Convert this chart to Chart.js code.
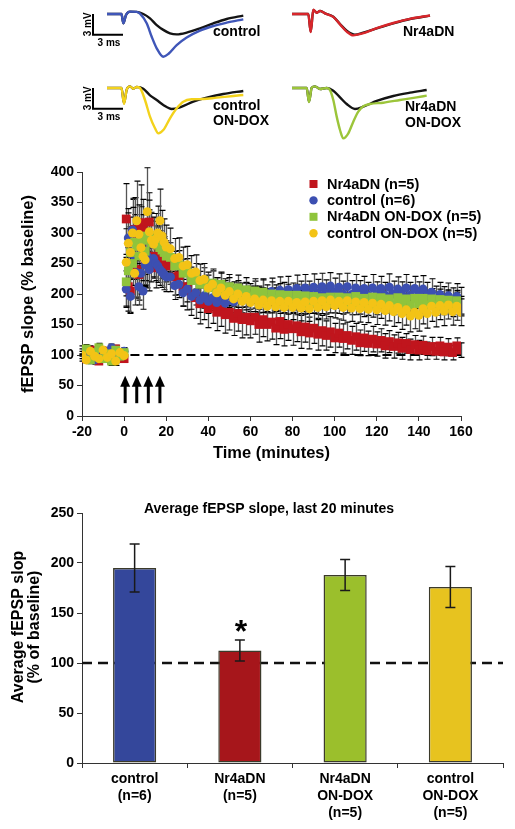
<!DOCTYPE html>
<html><head><meta charset="utf-8">
<script src="https://cdn.jsdelivr.net/npm/chart.js@4.4.0/dist/chart.umd.min.js"></script>
<style>
html,body{margin:0;padding:0;background:#fff;}
body{width:515px;height:829px;position:relative;overflow:hidden;}
canvas{position:absolute;}
</style></head><body>
<canvas id="c1" width="220" height="70" style="left:60px;top:0px"></canvas>
<canvas id="c2" width="220" height="70" style="left:270px;top:0px"></canvas>
<canvas id="c3" width="220" height="70" style="left:60px;top:74px"></canvas>
<canvas id="c4" width="220" height="70" style="left:270px;top:74px"></canvas>
<canvas id="cMid" width="515" height="330" style="left:0px;top:140px"></canvas>
<canvas id="cBar" width="515" height="349" style="left:0px;top:480px"></canvas>
<script>
// ================= DATA =================
// --- example traces (time in ms, voltage in mV)
const tr1BlackT = [0,1.45,1.63,1.9,2.3,2.97,3.63,4.3,4.97,5.63,6.3,6.97,7.97,9.3,10.63,11.97,13.63];
const tr1BlackV = [0,0,-1.35,-0.14,0.34,0.3,0,-0.63,-1.6,-2.3,-2.8,-2.95,-2.7,-2.08,-1.35,-0.72,-0.24];
const tr1BlueT  = [0,1.45,1.63,1.9,2.3,2.97,3.3,3.97,4.47,4.97,5.63,6.13,6.97,7.97,9.3,10.63,11.97,13.63];
const tr1BlueV  = [0,0,-1.35,-0.14,0.34,0.3,0.05,-1.35,-3.3,-4.97,-6.2,-5.8,-4.5,-3.4,-2.4,-1.74,-1.26,-0.77];

const tr2BlackT = [0,1.63,1.87,2.13,2.47,2.8,3.3,4.13,4.8,5.47,6.3,7.13,8.47,10.13,11.8,13.8];
const tr2BlackV = [0,0,-2.56,0.58,0.19,0.43,0.1,-0.39,-1.45,-2.42,-3.0,-2.7,-2.08,-1.35,-0.72,-0.24];
const tr2RedT   = [0,1.63,1.87,2.13,2.47,2.8,3.3,4.13,4.8,5.47,6.13,6.97,8.47,10.13,11.8,13.8];
const tr2RedV   = [0,0,-2.62,0.62,0.16,0.45,0.08,-0.42,-1.5,-2.55,-3.1,-2.85,-2.05,-1.3,-0.7,-0.22];

const tr3BlackT  = [0,1.45,1.7,1.97,2.3,2.63,2.97,3.63,4.3,4.97,5.63,6.47,7.3,8.63,9.97,11.63,13.63];
const tr3BlackV  = [0,0,-2.2,-0.24,0.24,-0.1,0.14,-0.1,-1.06,-1.74,-2.46,-3.04,-2.8,-1.98,-1.4,-0.87,-0.43];
const tr3YellowT = [0,1.45,1.7,1.97,2.3,2.63,2.97,3.3,3.8,4.3,4.8,5.13,5.63,6.3,6.97,7.63,8.47,9.63,10.97,12.63,13.63];
const tr3YellowV = [0,0,-2.3,-0.24,0.24,-0.1,0.14,0,-1.74,-4.15,-5.84,-6.57,-6.1,-4.4,-2.95,-1.98,-1.64,-1.6,-1.4,-1.16,-1.01];

const tr4BlackT = [0,1.47,1.7,1.97,2.3,2.8,3.47,4.13,4.8,5.47,6.3,7.13,8.47,10.13,11.8,13.47];
const tr4BlackV = [0,0,-1.98,0.05,0.24,-0.14,0,-0.39,-1.35,-2.32,-3.04,-2.71,-1.88,-1.16,-0.68,-0.29];
const tr4GreenT = [0,1.47,1.7,1.97,2.3,2.8,3.47,3.8,4.13,4.47,4.8,5.13,5.63,6.13,6.63,7.13,7.8,9.13,10.8,12.47,13.47];
const tr4GreenV = [0,0,-2.05,0.05,0.24,-0.14,0,-0.3,-1.74,-4.15,-6.09,-7.3,-6.57,-4.88,-3.43,-2.66,-2.32,-2.13,-1.74,-1.35,-1.11];

const traceLabels = [['control'],['Nr4aDN'],['control','ON-DOX'],['Nr4aDN','ON-DOX']];
const scaleBarMV = 3, scaleBarMS = 3;

// --- time course (minutes, % baseline)
const times = [-20,-18,-16,-14,-12,-10,-8,-6,-4,-2,0,
  1,2,3,4,5,6,7,8,9,10,11,12,13,14,15,16,17,18,19,20,
  22,24,26,28,30,32,34,36,38,40,42,44,46,48,50,52,54,56,58,60,
  62,64,66,68,70,72,74,76,78,80,82,84,86,88,90,92,94,96,98,100,
  102,104,106,108,110,112,114,116,118,120,122,124,126,128,130,132,134,136,138,140,
  142,144,146,148,150,152,154,156,158,160];

const nrVals = [104,94,108,97,90,106,100,92,110,96,94,
  323,212,205,300,306,240,232,317,305,255,248,318,290,262,243,280,270,255,262,248,
  246,228,230,212,208,200,194,184,190,176, 182,170,176,166,170,160,168,158,162,156,
  162,150,158,150,154,144,155,142,150,143, 148,138,146,136,144,134,140,132,138,128,
  136,127,132,124,130,120,128,119,126,118, 124,115,122,114,120,111,119,109,117,108,
  116,107,114,106,115,105,113,104,115,108];
const nrSem = [6,5,7,6,5,6,7,5,6,6,5,
  58,40,35,55,52,45,42,62,50,40,38,48,42,36,33,32,30,30,29,28,
  30,30,31,32,34,35,34,33,32,31, 30,30,29,30,29,28,29,30,29,28,
  28,29,28,27,28,27,28,27,26,27, 26,27,25,26,25,26,25,24,25,24,
  23,24,22,23,22,21,22,20,21,20, 19,20,18,19,17,18,16,17,15,16,
  15,14,15,13,14,13,14,12,13,12];

const ctVals = [108,95,104,92,110,98,102,112,94,100,106,
  208,292,196,305,262,235,212,234,205,248,262,240,252,258,250,246,240,236,232,228,
  228,214,216,202,208,196,202,190,197,188, 194,186,196,185,198,187,196,190,199,192,
  199,190,203,192,204,194,206,196,207,197, 209,198,210,200,211,201,212,202,213,203,
  211,200,212,199,210,201,209,198,210,199, 209,198,211,200,208,199,210,198,209,199,
  208,198,203,192,199,190,197,188,196,189];
const ctSem = [7,6,8,7,6,7,8,6,7,7,6,
  30,48,28,52,38,42,30,34,30,36,40,35,32,30,28,27,26,25,25,24,
  24,23,22,22,21,21,20,20,20,20, 21,20,22,21,20,21,22,21,20,21,
  22,21,22,23,22,21,22,23,22,21, 22,23,22,21,22,23,22,21,22,23,
  22,21,22,23,22,21,20,21,22,21, 20,21,22,21,20,21,22,21,20,21,
  22,21,22,21,20,22,21,22,21,22];

const nrDoxVals = [96,110,92,104,112,94,102,90,108,98,104,
  220,238,268,250,285,278,262,295,288,270,292,296,284,290,286,280,276,272,268,262,
  260,246,248,234,236,222,228,216,222,210, 218,206,216,204,212,200,210,198,207,196,
  205,194,203,190,200,191,199,188,198,187, 198,187,197,185,196,186,194,184,195,186,
  195,184,194,183,196,184,193,182,195,183, 194,184,192,182,194,183,192,181,193,184,
  193,182,192,181,191,182,190,179,189,180];
const nrDoxSem = [6,7,6,5,7,6,6,7,5,6,6,
  40,38,42,36,45,40,35,48,42,38,40,42,36,35,33,30,28,27,26,25,
  24,24,23,23,22,22,22,21,21,21, 20,21,20,21,20,20,21,20,20,21,
  20,19,20,19,20,19,18,19,18,19, 18,19,18,17,18,19,18,17,18,17,
  18,17,18,17,16,17,18,17,16,17, 17,16,17,16,17,16,17,16,17,16,
  17,16,17,16,17,16,17,16,17,16];

const ctDoxVals = [100,92,106,98,94,108,96,102,90,104,99,
  252,283,268,300,234,320,298,276,262,256,335,302,288,282,290,300,320,295,285,277,
  274,258,260,246,248,234,236,222,224,210, 216,202,210,198,204,192,200,188,196,186,
  192,182,190,180,189,179,188,178,188,178, 186,177,187,176,188,178,189,179,190,181,
  188,178,189,177,187,176,186,175,185,174, 183,173,181,171,178,168,174,164,170,165,
  176,168,180,170,181,172,182,171,180,170];
const ctDoxSem = [6,5,6,7,6,5,6,6,7,5,6,
  55,50,58,42,52,65,48,42,40,42,72,52,46,44,42,44,52,42,38,36,
  34,33,32,31,30,29,28,27,26,26, 25,25,24,24,23,23,22,22,22,21,
  21,21,20,21,20,21,20,20,21,20, 20,21,20,21,20,20,21,20,21,20,
  20,21,20,22,21,22,23,22,23,24, 23,24,25,24,25,26,25,26,27,26,
  25,24,25,24,23,24,23,22,23,22];

const seriesLabels = ['Nr4aDN (n=5)','control (n=6)','Nr4aDN ON-DOX (n=5)','control ON-DOX (n=5)'];
const refT = [3, 160], refV = [100, 100];
const stimTimes = [0.5, 6, 11.5, 17];
const stimFrom = 21, stimTo = 66;

// --- bar summary
const barCats = [['control','(n=6)'],['Nr4aDN','(n=5)'],['Nr4aDN','ON-DOX','(n=5)'],['control','ON-DOX','(n=5)']];
const barVals = [195, 112.5, 188, 176];
const barSem  = [24, 10.5, 15.5, 20.5];
const barSig  = ['', '*', '', ''];
const barBaseline = 100;
const barTitle = 'Average fEPSP slope, last 20 minutes';
const barYTitle = ['Average fEPSP slop','(% of baseline)'];

// ================= STYLE =================
const FONT = "'Liberation Sans', Arial, Helvetica, sans-serif";
Chart.defaults.font.family = FONT;
Chart.defaults.font.weight = 'bold';
Chart.defaults.color = '#000';
Chart.defaults.animation = false;

const C = {blue:'#3c4fb1', red:'#c0151d', green:'#8fc43c', yellow:'#f3c316'};
const TR = {blue:'#3f56b8', red:'#d8262b', yellow:'#f3d21c', green:'#9cc53a', black:'#141414'};

function pts(xs, ys){ return xs.map((x,i)=>({x:x, y:ys[i]})); }

// ================= TRACES =================
function traceChart(id, sets, xr, labels, labelX, labelY, withBar){
  new Chart(document.getElementById(id), {
    type:'line',
    data:{datasets: sets.map(s=>({data: pts(s.t, s.v), borderColor: s.c, borderWidth: 2.4,
      pointRadius:0, cubicInterpolationMode:'monotone', fill:false, clip:false}))},
    options:{responsive:false, animation:false, devicePixelRatio:1, layout:{padding:0},
      plugins:{legend:{display:false}, tooltip:{enabled:false}},
      scales:{x:{type:'linear', display:false, min:xr[0], max:xr[1]},
              y:{type:'linear', display:false, min:-8.116, max:2.029}}},
    plugins:[{id:'traceDeco', afterDraw(chart){
      const ctx = chart.ctx, xs = chart.scales.x, ys = chart.scales.y;
      ctx.save();
      ctx.fillStyle = '#000';
      ctx.font = 'bold 14px ' + FONT;
      ctx.textBaseline = 'alphabetic';
      ctx.textAlign = 'left';
      labels.forEach((l,i)=>ctx.fillText(l, labelX, labelY[i]));
      if (withBar){
        const bx = xs.getPixelForValue(-1.4), bx2 = xs.getPixelForValue(-1.4 + scaleBarMS);
        const by0 = ys.getPixelForValue(0), by1 = ys.getPixelForValue(-scaleBarMV);
        ctx.strokeStyle = '#000'; ctx.lineWidth = 2;
        ctx.beginPath(); ctx.moveTo(bx, by0); ctx.lineTo(bx, by1); ctx.lineTo(bx2, by1); ctx.stroke();
        ctx.font = 'bold 10px ' + FONT;
        ctx.textAlign = 'center';
        ctx.fillText(scaleBarMS + ' ms', (bx + bx2)/2 + 1, by1 + 11.5);
        ctx.save();
        ctx.translate(bx - 5, (by0 + by1)/2);
        ctx.rotate(-Math.PI/2);
        ctx.textBaseline = 'middle';
        ctx.fillText(scaleBarMV + ' mV', 0, 0);
        ctx.restore();
      }
      ctx.restore();
    }}]
  });
}
traceChart('c1', [{t:tr1BlueT, v:tr1BlueV, c:TR.blue},{t:tr1BlackT, v:tr1BlackV, c:TR.black}], [-4.7,17.3], traceLabels[0], 153, [36], true);
traceChart('c2', [{t:tr2RedT, v:tr2RedV, c:TR.red},{t:tr2BlackT, v:tr2BlackV, c:TR.black}], [-2.2,19.8], traceLabels[1], 133, [36], false);
traceChart('c3', [{t:tr3YellowT, v:tr3YellowV, c:TR.yellow},{t:tr3BlackT, v:tr3BlackV, c:TR.black}], [-4.7,17.3], traceLabels[2], 153, [36,51], true);
traceChart('c4', [{t:tr4GreenT, v:tr4GreenV, c:TR.green},{t:tr4BlackT, v:tr4BlackV, c:TR.black}], [-2.2,19.8], traceLabels[3], 135, [37,53], false);

// ================= TIME COURSE =================
const seriesDefs = [
  {label:seriesLabels[0], v:nrVals, e:nrSem, color:C.red, style:'rect'},
  {label:seriesLabels[1], v:ctVals, e:ctSem, color:C.blue, style:'circle'},
  {label:seriesLabels[2], v:nrDoxVals, e:nrDoxSem, color:C.green, style:'rect'},
  {label:seriesLabels[3], v:ctDoxVals, e:ctDoxSem, color:C.yellow, style:'circle'}
];
const axisCol = '#333';
new Chart(document.getElementById('cMid'), {
  type:'line',
  data:{datasets:[
    {label:'ref', data: pts(refT, refV), borderColor:'#000', borderWidth:2.2, borderDash:[9,5], pointRadius:0, order:10, fill:false},
    ...seriesDefs.map((s,i)=>({label:s.label, data: pts(times, s.v), showLine:false,
      pointStyle:s.style, pointRadius: s.style==='rect' ? 6.2 : 4.5, pointBackgroundColor:s.color,
      pointBorderColor:s.color, pointBorderWidth:0, order: 4 - i}))
  ]},
  options:{responsive:false, animation:false, devicePixelRatio:1,
    layout:{padding:{top:32, right:54, left:0, bottom:0}},
    plugins:{legend:{display:false}, tooltip:{enabled:false}},
    scales:{
      x:{type:'linear', min:-20, max:160,
        ticks:{stepSize:20, font:{size:14, weight:'bold'}, color:'#000', padding:3},
        grid:{drawOnChartArea:false, drawTicks:true, tickLength:5, color:axisCol},
        border:{color:axisCol, width:1},
        title:{display:true, text:'Time (minutes)', font:{size:16.5, weight:'bold'}, color:'#000', padding:{top:0, bottom:7}},
        afterFit(s){ s.height = 54; }},
      y:{type:'linear', min:0, max:400,
        ticks:{stepSize:50, font:{size:14, weight:'bold'}, color:'#000', padding:3},
        grid:{drawOnChartArea:false, drawTicks:true, tickLength:5, color:axisCol},
        border:{color:axisCol, width:1},
        title:{display:true, text:'fEPSP slope (% baseline)', font:{size:16.5, weight:'bold'}, color:'#000', padding:{top:19, bottom:0}},
        afterFit(s){ s.width = 82; }}
    }},
  plugins:[{
    id:'errorBars',
    beforeDatasetsDraw(chart){
      const ctx = chart.ctx, xs = chart.scales.x, ys = chart.scales.y;
      ctx.save();
      seriesDefs.forEach(s=>{
        times.forEach((t,i)=>{
          const px = Math.round(xs.getPixelForValue(t)) + 0.5;
          const pt = ys.getPixelForValue(s.v[i] + s.e[i]);
          const pb = ys.getPixelForValue(s.v[i] - s.e[i]);
          ctx.strokeStyle = '#555'; ctx.lineWidth = 1.3;
          ctx.beginPath(); ctx.moveTo(px, pt); ctx.lineTo(px, pb); ctx.stroke();
          ctx.strokeStyle = '#000'; ctx.lineWidth = 1.2;
          ctx.beginPath(); ctx.moveTo(px-3, pt); ctx.lineTo(px+3, pt);
          ctx.moveTo(px-3, pb); ctx.lineTo(px+3, pb); ctx.stroke();
        });
      });
      ctx.restore();
    },
    afterDatasetsDraw(chart){
      const ctx = chart.ctx, xs = chart.scales.x, ys = chart.scales.y;
      ctx.save();
      ctx.fillStyle = '#000'; ctx.strokeStyle = '#000';
      stimTimes.forEach(t=>{
        const px = xs.getPixelForValue(t);
        const yT = ys.getPixelForValue(stimFrom), yH = ys.getPixelForValue(stimTo);
        ctx.lineWidth = 3;
        ctx.beginPath(); ctx.moveTo(px, yT); ctx.lineTo(px, yH + 8); ctx.stroke();
        ctx.beginPath(); ctx.moveTo(px, yH); ctx.lineTo(px - 5, yH + 11); ctx.lineTo(px + 5, yH + 11); ctx.closePath(); ctx.fill();
      });
      ctx.restore();
    },
    afterDraw(chart){
      const ctx = chart.ctx;
      ctx.save();
      ctx.font = 'bold 14.5px ' + FONT;
      ctx.textBaseline = 'middle'; ctx.textAlign = 'left';
      seriesDefs.forEach((s,i)=>{
        const y = 44 + i*16.4;
        ctx.fillStyle = s.color;
        if (s.style === 'rect') ctx.fillRect(309.5, y-4, 8, 8);
        else { ctx.beginPath(); ctx.arc(313.5, y, 4.2, 0, 2*Math.PI); ctx.fill(); }
        ctx.fillStyle = '#000';
        ctx.fillText(s.label, 327, y + 0.5);
      });
      ctx.restore();
    }
  }]
});

// ================= BAR SUMMARY =================
new Chart(document.getElementById('cBar'), {
  type:'bar',
  data:{labels: barCats, datasets:[{data: barVals, backgroundColor:['#34479b','#a6161b','#9bbf2c','#e7c31f'],
    borderColor:'#3b3a2a', borderWidth:1.5, borderSkipped:false, barPercentage:0.41, categoryPercentage:1}]},
  options:{responsive:false, animation:false, devicePixelRatio:1,
    layout:{padding:{top:33, right:12, left:0, bottom:0}},
    plugins:{legend:{display:false}, tooltip:{enabled:false}},
    scales:{
      x:{grid:{offset:true, drawOnChartArea:false, tickLength:5, color:axisCol},
        border:{color:axisCol, width:1},
        ticks:{font:{size:14, weight:'bold'}, color:'#000', padding:3},
        afterFit(s){ s.height = 66; }},
      y:{min:0, max:250,
        ticks:{stepSize:50, font:{size:14, weight:'bold'}, color:'#000', padding:3},
        grid:{drawOnChartArea:false, tickLength:5, color:axisCol},
        border:{color:axisCol, width:1},
        afterFit(s){ s.width = 82; }}
    }},
  plugins:[{
    id:'barDeco',
    beforeDatasetsDraw(chart){
      const ctx = chart.ctx, ys = chart.scales.y, a = chart.chartArea;
      const py = ys.getPixelForValue(barBaseline);
      ctx.save();
      ctx.strokeStyle = '#111'; ctx.lineWidth = 2.5; ctx.setLineDash([10,6]);
      ctx.beginPath(); ctx.moveTo(a.left, py); ctx.lineTo(a.right, py); ctx.stroke();
      ctx.restore();
    },
    afterDatasetsDraw(chart){
      const ctx = chart.ctx, ys = chart.scales.y, xs = chart.scales.x;
      ctx.save();
      barVals.forEach((v,i)=>{
        const px = xs.getPixelForValue(i);
        const pt = ys.getPixelForValue(v + barSem[i]), pb = ys.getPixelForValue(v - barSem[i]);
        ctx.strokeStyle = '#1a1a1a'; ctx.lineWidth = 1.5;
        ctx.beginPath(); ctx.moveTo(px, pt); ctx.lineTo(px, pb);
        ctx.moveTo(px-5, pt); ctx.lineTo(px+5, pt);
        ctx.moveTo(px-5, pb); ctx.lineTo(px+5, pb); ctx.stroke();
        if (barSig[i]) {
          ctx.fillStyle = '#000';
          ctx.font = 'bold 32px ' + FONT;
          ctx.textAlign = 'center'; ctx.textBaseline = 'alphabetic';
          ctx.fillText(barSig[i], px + 1, pt + 2);
        }
      });
      ctx.font = 'bold 14px ' + FONT;
      ctx.textAlign = 'center'; ctx.textBaseline = 'middle'; ctx.fillStyle = '#000';
      ctx.fillText(barTitle, 269, 29);
      // y-axis title (two lines, rotated)
      ctx.font = 'bold 16px ' + FONT;
      ctx.save();
      ctx.translate(0, 147);
      ctx.rotate(-Math.PI/2);
      ctx.fillText(barYTitle[0], 0, 18.5);
      ctx.fillText(barYTitle[1], 0, 35);
      ctx.restore();
      ctx.restore();
    }
  }]
});
</script>
</body></html>
